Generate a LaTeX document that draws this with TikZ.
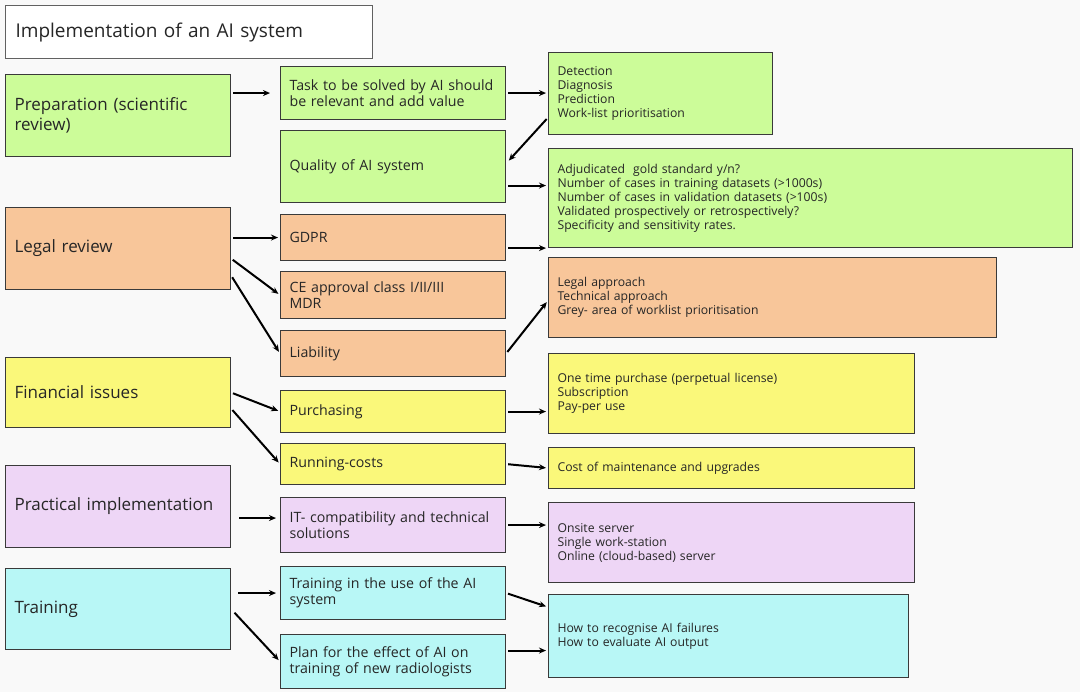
\documentclass[tikz,border=0pt]{standalone}
\usepackage{fontspec}
\setmainfont{Open Sans}
\usetikzlibrary{arrows.meta, positioning}

\definecolor{bgc}{RGB}{249,249,249}
\definecolor{edgec}{RGB}{58,58,58}
\definecolor{cgreen}{RGB}{204,252,153}
\definecolor{corange}{RGB}{248,198,154}
\definecolor{cyellow}{RGB}{250,248,122}
\definecolor{clav}{RGB}{238,214,246}
\definecolor{ccyan}{RGB}{184,247,246}

\begin{document}
\begin{tikzpicture}[x=1pt, y=-1pt,
      box/.style={draw=edgec, line width=1.1pt, anchor=north west, align=left,
                  inner xsep=9pt, inner ysep=0pt, text=black!85},
      sz/.style 2 args={text width=#1, minimum height=#2},
      big/.style={box, font=\fontsize{17}{20}\selectfont},
      mid/.style={box, font=\fontsize{14.2}{16}\selectfont},
      sml/.style={box, font=\fontsize{12.2}{14}\selectfont},
      arr/.style={-{Stealth[length=7pt, width=6pt]}, line width=2pt,
                  shorten <=2pt, shorten >=2pt}]

    % ---- Canvas ----
    \useasboundingbox[fill=bgc] (0,0) rectangle (1080,692);

    % ---- Layout ----
    \def\cL{5}      % left column x
    \def\cM{280}    % middle column x
    \def\cR{548}    % right column x

    % ---- Title ----
    \node[box, fill=white, draw=edgec!80, font=\fontsize{19}{22}\selectfont,
          sz={347pt}{53pt}, inner xsep=10pt] (title) at (\cL, 5) {Implementation of an AI system};

    % ---- Left column: topics ----
    \node[big, fill=cgreen,  sz={207pt}{82pt}] (prep)  at (\cL, 74)  {Preparation (scientific\\review)};
    \node[big, fill=corange, sz={207pt}{82pt}] (legal) at (\cL, 207) {Legal review};
    \node[big, fill=cyellow, sz={207pt}{70pt}] (fin)   at (\cL, 357) {Financial issues};
    \node[big, fill=clav,    sz={207pt}{82pt}] (prac)  at (\cL, 465) {Practical implementation};
    \node[big, fill=ccyan,   sz={207pt}{81pt}] (train) at (\cL, 568) {Training};

    % ---- Middle column: questions ----
    \node[mid, fill=cgreen,  sz={207pt}{53pt}] (task)  at (\cM, 66)  {\mbox{Task to be solved by AI should}\\be relevant and add value};
    \node[mid, fill=cgreen,  sz={207pt}{72pt}] (qual)  at (\cM, 130) {Quality of AI system};
    \node[mid, fill=corange, sz={207pt}{46pt}] (gdpr)  at (\cM, 214) {GDPR};
    \node[mid, fill=corange, sz={207pt}{47pt}] (ce)    at (\cM, 271) {CE approval class I/II/III\\MDR};
    \node[mid, fill=corange, sz={207pt}{46pt}] (liab)  at (\cM, 330) {Liability};
    \node[mid, fill=cyellow, sz={207pt}{42pt}] (purch) at (\cM, 390) {Purchasing};
    \node[mid, fill=cyellow, sz={207pt}{41pt}] (run)   at (\cM, 443) {Running-costs};
    \node[mid, fill=clav,    sz={207pt}{55pt}] (it)    at (\cM, 497) {\mbox{IT- compatibility and technical}\\solutions};
    \node[mid, fill=ccyan,   sz={207pt}{53pt}] (tuse)  at (\cM, 566) {Training in the use of the AI\\system};
    \node[mid, fill=ccyan,   sz={207pt}{54pt}] (plan)  at (\cM, 634) {Plan for the effect of AI on\\training of new radiologists};

    % ---- Right column: details ----
    \node[sml, fill=cgreen,  sz={206pt}{82pt}] (det)    at (\cR, 52)  {Detection\\Diagnosis\\Prediction\\Work-list prioritisation};
    \node[sml, fill=cgreen,  sz={506pt}{99pt}] (adj)    at (\cR, 148) {Adjudicated\ \ gold standard y/n?\\Number of cases in training datasets (>1000s)\\Number of cases in validation datasets (>100s)\\Validated prospectively or retrospectively?\\Specificity and sensitivity rates.};
    \node[sml, fill=corange, sz={430pt}{80pt}] (lapp)   at (\cR, 257) {Legal approach\\Technical approach\\Grey- area of worklist prioritisation};
    \node[sml, fill=cyellow, sz={348pt}{80pt}] (otp)    at (\cR, 353) {One time purchase (perpetual license)\\Subscription\\Pay-per use};
    \node[sml, fill=cyellow, sz={348pt}{41pt}] (cost)   at (\cR, 447) {Cost of maintenance and upgrades};
    \node[sml, fill=clav,    sz={348pt}{80pt}] (onsite) at (\cR, 502) {Onsite server\\Single work-station\\Online (cloud-based) server};
    \node[sml, fill=ccyan,   sz={342pt}{83pt}] (how)    at (\cR, 594) {How to recognise AI failures\\How to evaluate AI output};

    % ---- Left -> middle ----
    \draw[arr, shorten >=10pt] (task.west -| prep.east) -- (task.west);
    \draw[arr] (gdpr.west -| legal.east) -- (gdpr.west);
    \draw[arr] ([yshift=-10pt]legal.east) -- (ce.west);
    \draw[arr] ([yshift=-27pt]legal.east) -- (liab.west);
    \draw[arr] (fin.east) -- (purch.west);
    \draw[arr] ([yshift=-16pt]fin.east) -- (run.west);
    \draw[arr, shorten <=8pt, shorten >=4pt] ([yshift=7pt]it.west -| prac.east) -- ([yshift=7pt]it.west);
    \draw[arr, shorten <=7pt, shorten >=4pt] (tuse.west -| train.east) -- (tuse.west);
    \draw[arr, shorten <=5pt] (train.east) -- (plan.west);

    % ---- Middle -> right ----
    \draw[arr] (task.east) -- (task.east -| det.west);
    \draw[arr, shorten >=4pt] ([yshift=-24pt]det.west) -- ([yshift=3pt]qual.east);
    \draw[arr] ([yshift=-19pt]qual.east) -- ([yshift=-19pt]qual.east -| adj.west);
    \draw[arr] (gdpr.east |- adj.south west) -- (adj.south west);
    \draw[arr] (liab.east) -- ([yshift=-3pt]lapp.west);
    \draw[arr] (purch.east) -- (purch.east -| otp.west);
    \draw[arr] (run.east) -- (cost.west);
    \draw[arr] (it.east) -- (it.east -| onsite.west);
    \draw[arr] (tuse.east) -- ([yshift=29pt]how.west);
    \draw[arr] ([yshift=11pt]plan.east) -- ([yshift=11pt]plan.east -| how.west);

\end{tikzpicture}
\end{document}
